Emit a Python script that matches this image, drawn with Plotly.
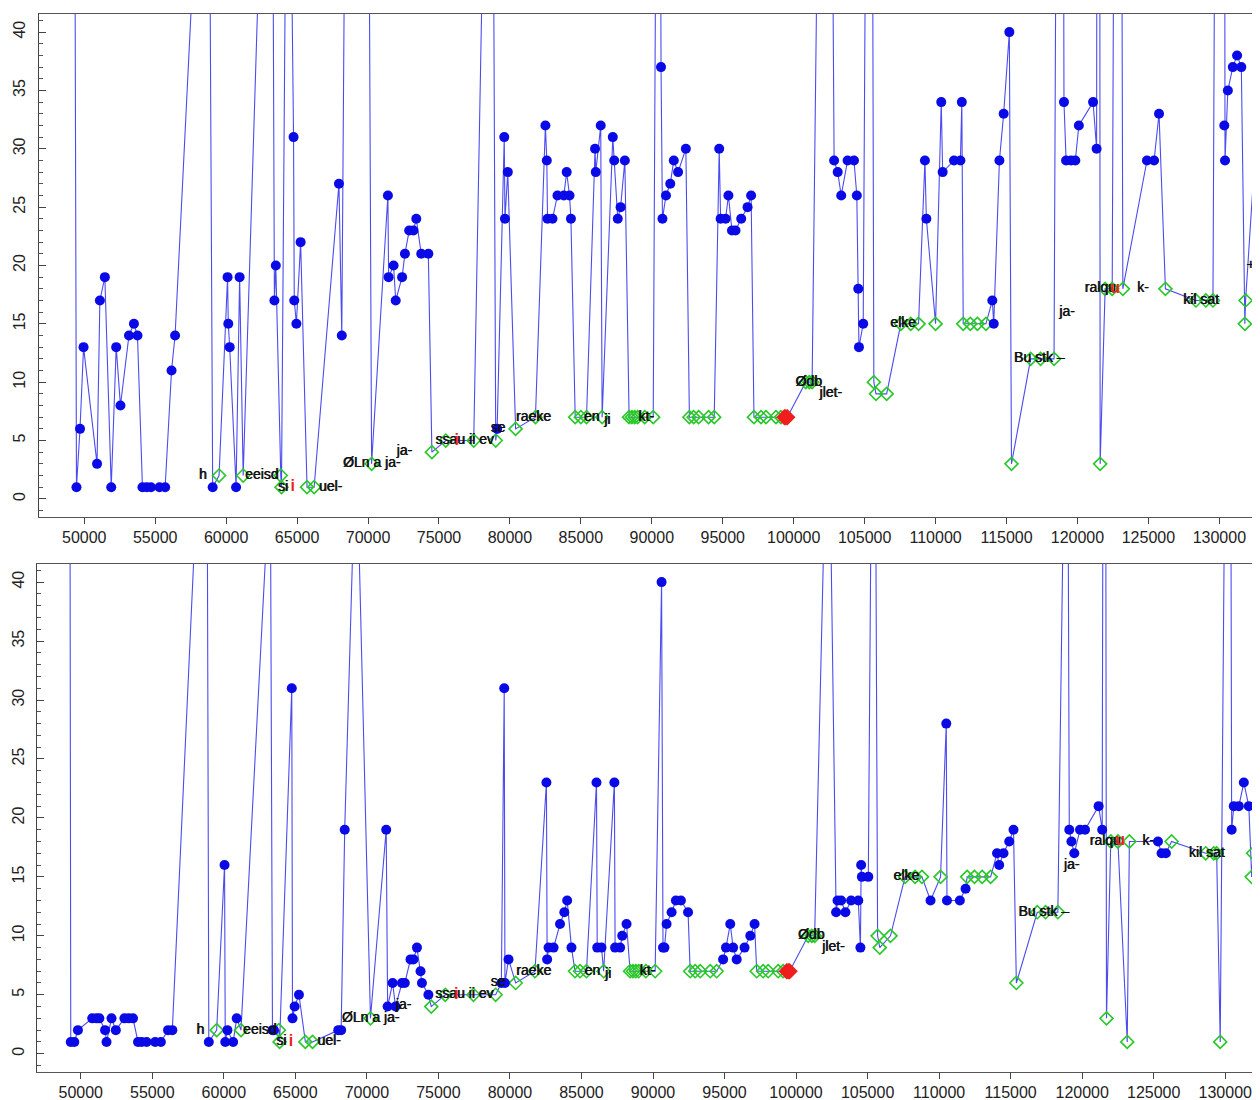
import plotly.graph_objects as go

# ---------------- data: top panel ----------------
top_blue_x = [49250, 49450, 49700, 49950, 50900, 51100, 51450, 51900, 52250, 52550, 53150, 53500, 53750,
              54100, 54400, 54700, 55300, 55700, 56150, 56400, 58750, 59050, 60100, 60150, 60250, 60700,
              60950, 63200, 63400, 63500, 64350, 64750, 64800, 64950, 65250, 67950, 68150, 69400, 71400,
              71450, 71800, 71950, 72400, 72600, 72900, 73200, 73400, 73750, 74250, 78700, 79100, 79600,
              79650, 79850, 82500, 82600, 82650, 83000, 83350, 83800, 84000, 84200, 84300, 86000, 86050,
              86400, 87250, 87350, 87600, 87800, 88100, 90500, 90650, 90750, 91000, 91300, 91550, 91850,
              92400, 94750, 94850, 95200, 95400, 95650, 95900, 96300, 96750, 97000, 102350, 102850, 103100,
              103350, 103800, 104250, 104450, 104550, 104600, 104900, 105400, 109250, 109350, 110400, 110500,
              111300, 111750, 111850, 114000, 114100, 114500, 114800, 115200, 118850, 119050, 119200, 119550,
              119850, 120100, 121100, 121350, 121500, 122900, 124900, 125400, 125750, 130250, 130350, 130400,
              130600, 130950, 131250, 131550, 132750, 132850]
top_blue_y = [90, 1, 6, 13, 3, 17, 19, 1, 13, 8, 14, 15, 14,
              1, 1, 1, 1, 1, 11, 14, 72, 1, 19, 15, 13, 1,
              19, 81, 17, 20, 75, 31, 17, 15, 22, 27, 14, 230, 26,
              19, 20, 17, 19, 21, 23, 23, 24, 21, 21, 88, 6, 31,
              24, 28, 32, 29, 24, 24, 26, 26, 28, 26, 24, 30, 28,
              32, 31, 29, 24, 25, 29, 100, 37, 24, 26, 27, 29, 28,
              30, 30, 24, 24, 26, 23, 23, 24, 25, 26, 120, 29, 28,
              26, 29, 29, 26, 18, 13, 15, 120, 29, 24, 34, 28,
              29, 29, 34, 17, 15, 29, 33, 40, 150, 34, 29, 29,
              29, 32, 34, 30, 200, 150, 29, 29, 33, 200, 32, 29,
              35, 37, 38, 37, 34, 37]

top_green_x = [59500, 61200, 63850, 63900, 65700, 66200, 70250, 74500, 75480, 77450, 79000, 80400, 81800,
               84600, 85000, 85400, 86500, 88400, 88600, 88800, 89000, 89500, 90100, 92650, 92950, 93300,
               94000, 94400, 97200, 97700, 98050, 98750, 99100, 100850, 101100, 101300, 105650, 105800,
               106550, 107550, 108250, 108800, 110000, 111950, 112450, 112950, 113550, 115350, 116700,
               117400, 118350, 121600, 121950, 122450, 123200, 126200, 128350, 129050, 129550, 131800, 131850]
top_green_y = [2, 2, 2, 1, 1, 1, 3, 4, 5, 5, 5, 6, 7,
               7, 7, 7, 7, 7, 7, 7, 7, 7, 7, 7, 7, 7,
               7, 7, 7, 7, 7, 7, 7, 10, 10, 10, 10, 9,
               9, 15, 15, 15, 15, 15, 15, 15, 15, 3, 12,
               12, 12, 3, 18, 18, 18, 18, 17, 17, 17, 15, 17]

# ---------------- data: bottom panel ----------------
bot_blue_x = [49200, 49300, 49550, 49800, 50800, 51100, 51300, 51700, 51800, 52150, 52450, 53050, 53350,
              53650, 54000, 54250, 54600, 55200, 55600, 56100, 56400, 58800, 58950, 60050, 60100, 60250,
              60650, 60900, 63250, 63400, 63500, 64750, 64800, 64950, 65250, 68000, 68200, 68450, 69250,
              71350, 71450, 71800, 72000, 72450, 72650, 73050, 73250, 73500, 73750, 73850, 74300, 79400,
              79600, 79650, 79900, 82550, 82600, 82700, 83050, 83500, 83800, 84000, 84300, 86050, 86100,
              86400, 87300, 87350, 87700, 87850, 88150, 90600, 90700, 90800, 90950, 91300, 91600, 91950,
              92450, 94900, 95100, 95400, 95600, 95850, 96400, 96800, 97100, 102250, 102800, 102900, 103150,
              103450, 103850, 104350, 104500, 104550, 104600, 105050, 105450, 109400, 110500, 110550, 111450,
              111850, 114050, 114200, 114500, 114900, 115200, 118950, 119100, 119250, 119450, 119850, 120200,
              121150, 121400, 121570, 125300, 125550, 125850, 130300, 130450, 130600, 130950, 131300, 131650,
              132600]
bot_blue_y = [90, 1, 1, 2, 3, 3, 3, 2, 1, 3, 2, 3, 3,
              3, 1, 1, 1, 1, 1, 2, 2, 66, 1, 16, 1, 2,
              1, 3, 50, 2, 2, 31, 3, 4, 5, 2, 2, 19, 53,
              19, 4, 6, 4, 6, 6, 8, 8, 9, 7, 6, 5, 6,
              31, 6, 8, 23, 8, 9, 9, 11, 12, 13, 9, 23, 9,
              9, 23, 9, 9, 10, 11, 40, 9, 9, 11, 12, 13, 13,
              12, 8, 9, 11, 9, 8, 9, 10, 11, 60, 12, 13, 13,
              12, 13, 13, 9, 16, 15, 15, 80, 13, 28, 13, 13,
              14, 17, 16, 17, 18, 19, 70, 19, 18, 17, 19, 19,
              21, 19, 120, 18, 17, 17, 100, 19, 21, 21, 23, 21,
              22]

bot_green_x = [59500, 61200, 63850, 63900, 65700, 66200, 70250, 74500, 75480, 77450, 79000, 80400, 81750,
               84550, 84900, 85350, 86550, 88400, 88600, 88800, 89000, 89500, 90150, 92600, 92950, 93300,
               94000, 94450, 97250, 97700, 98050, 98750, 99100, 100850, 101100, 101300, 105700, 105850,
               106600, 107620, 108320, 108800, 110100, 111960, 112470, 113010, 113600, 115400, 116860,
               117440, 118300, 121700, 122000, 122500, 123150, 123300, 126250, 128640, 129200, 129400,
               129650, 131850, 131950]
bot_green_y = [2, 2, 2, 1, 1, 1, 3, 4, 5, 5, 5, 6, 7,
               7, 7, 7, 7, 7, 7, 7, 7, 7, 7, 7, 7, 7,
               7, 7, 7, 7, 7, 7, 7, 10, 10, 10, 10, 9,
               10, 15, 15, 15, 15, 15, 15, 15, 15, 6, 12,
               12, 12, 3, 18, 18, 1, 18, 18, 17, 17, 17,
               1, 15, 17]

# ---------------- shared marks ----------------
red_x = [99350, 99450, 99550]
red_y = [7, 7, 7]

label_text = ["h", "eeisd", "si", "uel-", "ØLn a ja-", "ja-", "ssau ii ev", "se", "raeke", "en", "ji",
              "kt-", "Ødb", "jlet-", "elke", "ja-", "Bu stk –", "ralqu", "k-", "kil sat", "+-"]
label_x = [58350, 62500, 64000, 67350, 70250, 72550, 76800, 79150, 81650, 85750, 86850,
           89600, 101050, 102600, 107700, 119250, 117300, 121600, 124600, 128700, 132350]
label_y = [2, 2, 1, 1, 3, 4.1, 5, 6, 7, 7, 6.7,
           7, 10, 9, 15, 16, 12, 18, 18, 17, 20]

red_label_text = ["i", "i", "u"]
red_label_x = [64700, 76250, 122650]
red_label_y = [1, 5, 18]

# ---------------- styles ----------------
LINE_C = "rgb(75,75,240)"
BLUE_C = "rgb(10,10,230)"
GREEN_C = "rgb(40,200,40)"
RED_C = "rgb(240,30,30)"
FONT = "Liberation Sans, Arial, sans-serif"

fig = go.Figure()


def add_panel(bx, by, gx, gy, xa, ya):
    pts = [(x, y) for x, y in zip(bx, by)] + [(x, y) for x, y in zip(gx, gy)] + \
          [(x, y) for x, y in zip(red_x, red_y)]
    pts.sort(key=lambda p: p[0])
    fig.add_trace(go.Scatter(x=[p[0] for p in pts], y=[p[1] for p in pts], mode="lines",
                             line=dict(color=LINE_C, width=1.1), xaxis=xa, yaxis=ya,
                             hoverinfo="skip"))
    fig.add_trace(go.Scatter(x=gx, y=gy, mode="markers", xaxis=xa, yaxis=ya,
                             marker=dict(symbol="diamond-open", size=10, color=GREEN_C,
                                         line=dict(width=1.6, color=GREEN_C))))
    fig.add_trace(go.Scatter(x=bx, y=by, mode="markers", xaxis=xa, yaxis=ya,
                             marker=dict(symbol="circle", size=10, color=BLUE_C)))
    fig.add_trace(go.Scatter(x=red_x, y=red_y, mode="markers", xaxis=xa, yaxis=ya,
                             marker=dict(symbol="diamond", size=11, color=RED_C,
                                         line=dict(width=1.5, color=RED_C))))
    # two slightly offset layers give the smudged look of the overprinted labels
    for dx in (0, 45):
        fig.add_trace(go.Scatter(x=[v + dx for v in label_x], y=label_y, mode="text", text=label_text,
                                 xaxis=xa, yaxis=ya, textposition="middle center",
                                 textfont=dict(family=FONT, size=14, color="#111")))
    fig.add_trace(go.Scatter(x=red_label_x, y=red_label_y, mode="text", text=red_label_text,
                             xaxis=xa, yaxis=ya, textposition="middle center",
                             textfont=dict(family=FONT, size=16, color=RED_C, weight="bold")))


add_panel(top_blue_x, top_blue_y, top_green_x, top_green_y, "x", "y")
add_panel(bot_blue_x, bot_blue_y, bot_green_x, bot_green_y, "x2", "y2")

xcommon = dict(dtick=5000, tick0=0, tickformat="d", ticks="outside", ticklen=6, tickcolor="#444",
               showline=True, linecolor="#555", linewidth=1.2, mirror=True, showgrid=False,
               zeroline=False, tickfont=dict(family=FONT, size=16, color="#222"))
ycommon = dict(dtick=5, tick0=0, tickangle=-90, ticks="inside", ticklen=7, tickcolor="#444",
               ticklabelstandoff=6,
               minor=dict(dtick=1, ticks="inside", ticklen=4, tickcolor="#555"),
               showline=True, linecolor="#444", linewidth=1.2, mirror=False, showgrid=False,
               zeroline=False, tickfont=dict(family=FONT, size=16, color="#222"))

fig.update_layout(
    width=1260, height=1100,
    margin=dict(l=29, r=0, t=6, b=36),
    paper_bgcolor="white", plot_bgcolor="white",
    showlegend=False,
    xaxis=dict(domain=[0.0016, 1], anchor="y", range=[46807, 133430], **xcommon),
    yaxis=dict(domain=[0.5244, 1], anchor="x", range=[-1.57, 41.55], **ycommon),
    xaxis2=dict(domain=[0, 1], anchor="y2", range=[46940, 132990], **xcommon),
    yaxis2=dict(domain=[0, 0.4803], anchor="x2", range=[-1.55, 41.55], **ycommon),
)

fig.write_html("out.html")
